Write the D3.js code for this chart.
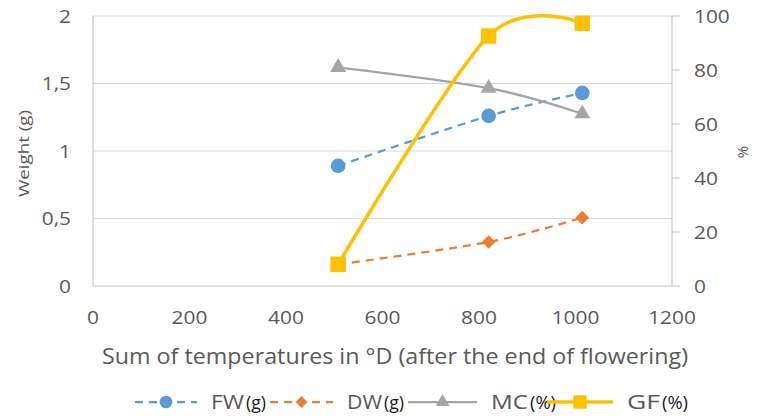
<!DOCTYPE html>
<html><head><meta charset="utf-8">
<script src="https://cdn.jsdelivr.net/npm/d3@7"></script>
<style>body{margin:0;background:#fff}svg{display:block}text{font-family:"Open Sans",sans-serif}</style>
</head><body><svg id="c" width="760" height="419"></svg>
<script>
const xValues = [508, 820, 1014];
const fw = [0.89, 1.26, 1.43];
const dw = [0.16, 0.326, 0.506];
const mc = [81, 73.3, 63.8];
const gf = [8, 92.6, 97.3];
const xTicks = [0, 200, 400, 600, 800, 1000, 1200];
const yLeftTicks = [0, 0.5, 1, 1.5, 2];
const yLeftLabels = ["0", "0,5", "1", "1,5", "2"];
const yRightTicks = [0, 20, 40, 60, 80, 100];
const seriesNames = ["FW", "DW", "MC", "GF"];
const seriesUnits = ["(g)", "(g)", "(%)", "(%)"];

const svg = d3.select("#c");
const L = 93, R = 672, T = 16, B = 286;
const x = d3.scaleLinear().domain([0, 1200]).range([L, R]);
const yL = d3.scaleLinear().domain([0, 2]).range([B, T]);
const yR = d3.scaleLinear().domain([0, 100]).range([B, T]);
const txt = "#595959";
const SX = 1.16;

// gridlines
svg.append("g").selectAll("line").data(yLeftTicks.slice(1)).join("line")
  .attr("x1", L).attr("x2", R).attr("y1", d => yL(d)).attr("y2", d => yL(d))
  .attr("stroke", "#d9d9d9").attr("stroke-width", 1);
// axes lines
svg.append("line").attr("x1", L).attr("x2", R).attr("y1", B).attr("y2", B).attr("stroke", "#bfbfbf");
svg.append("line").attr("x1", L).attr("x2", L).attr("y1", T).attr("y2", B).attr("stroke", "#bfbfbf");
svg.append("line").attr("x1", R).attr("x2", R).attr("y1", T).attr("y2", B).attr("stroke", "#bfbfbf");
svg.append("g").selectAll("line").data(yRightTicks).join("line")
  .attr("x1", R).attr("x2", R + 8).attr("y1", d => yR(d)).attr("y2", d => yR(d)).attr("stroke", "#bfbfbf");

// tick labels (slightly widened glyphs)
svg.append("g").selectAll("text").data(yLeftTicks).join("text")
  .attr("transform", d => `translate(71,${yL(d) + 6.5}) scale(${SX},1)`).attr("text-anchor", "end")
  .attr("font-size", 18).attr("fill", txt).text((d, i) => yLeftLabels[i]);
svg.append("g").selectAll("text").data(yRightTicks).join("text")
  .attr("transform", d => `translate(694,${yR(d) + 6.5}) scale(${SX},1)`).attr("text-anchor", "start")
  .attr("font-size", 18).attr("fill", txt).text(d => d);
svg.append("g").selectAll("text").data(xTicks).join("text")
  .attr("transform", d => `translate(${x(d)},324) scale(${SX},1)`).attr("text-anchor", "middle")
  .attr("font-size", 18).attr("fill", txt).text(d => d);

// axis titles
svg.append("text").attr("x", 102).attr("y", 364)
  .attr("font-size", 21).attr("fill", txt).attr("textLength", 586).attr("lengthAdjust", "spacingAndGlyphs")
  .text("Sum of temperatures in °D (after the end of flowering)");
svg.append("text").attr("transform", "translate(29,197) rotate(-90)")
  .attr("font-size", 15).attr("fill", txt).attr("textLength", 87).attr("lengthAdjust", "spacingAndGlyphs")
  .text("Weight (g)");
svg.append("text").attr("transform", "translate(748,152) rotate(-90)").attr("text-anchor", "middle")
  .attr("font-size", 15).attr("fill", txt).text("%");

const curve = d3.curveCardinal.tension(0.1);
const series = [
  {vals: fw, y: yL, color: "#5B9BD5", dash: "8,6", w: 2.25, sym: d3.symbolCircle, size: 170},
  {vals: dw, y: yL, color: "#ED7D31", dash: "8,6", w: 2.25, sym: d3.symbolDiamond2, size: 120},
  {vals: mc, y: yR, color: "#A5A5A5", dash: null, w: 2.25, sym: d3.symbolTriangle, size: 110},
  {vals: gf, y: yR, color: "#FFC000", dash: null, w: 3.5, sym: d3.symbolSquare, size: 240}
];
series.forEach(s => {
  const line = d3.line().x((d, i) => x(xValues[i])).y(d => s.y(d)).curve(curve);
  svg.append("path").attr("d", line(s.vals)).attr("fill", "none").attr("stroke", s.color)
    .attr("stroke-width", s.w).attr("stroke-dasharray", s.dash);
  svg.append("g").selectAll("path").data(s.vals).join("path")
    .attr("transform", (d, i) => `translate(${x(xValues[i])},${s.y(d)})`)
    .attr("d", d3.symbol().type(s.sym).size(s.size)).attr("fill", s.color);
});

// legend
const legX = [135, 270, 408, 547];
const legW = [62, 63, 69, 66];
const nameW = [33, 35, 37, 33];
const legY = 402;
series.forEach((s, i) => {
  const g = svg.append("g");
  g.append("line").attr("x1", legX[i]).attr("x2", legX[i] + legW[i]).attr("y1", legY).attr("y2", legY)
    .attr("stroke", s.color).attr("stroke-width", s.w).attr("stroke-dasharray", s.dash);
  g.append("path").attr("transform", `translate(${legX[i] + legW[i] / 2},${legY})`)
    .attr("d", d3.symbol().type(s.sym).size(s.size * 0.75)).attr("fill", s.color);
  const tx = legX[i] + legW[i] + 14;
  g.append("text").attr("x", tx).attr("y", legY + 7).attr("font-size", 20).attr("fill", txt)
    .attr("textLength", nameW[i]).attr("lengthAdjust", "spacingAndGlyphs").text(seriesNames[i]);
  g.append("text").attr("x", tx + nameW[i] + 2).attr("y", legY + 7).attr("font-size", 18).attr("fill", "#1a1a1a")
    .attr("textLength", seriesUnits[i] === "(g)" ? 20 : 26).attr("lengthAdjust", "spacingAndGlyphs").text(seriesUnits[i]);
});
</script></body></html>
